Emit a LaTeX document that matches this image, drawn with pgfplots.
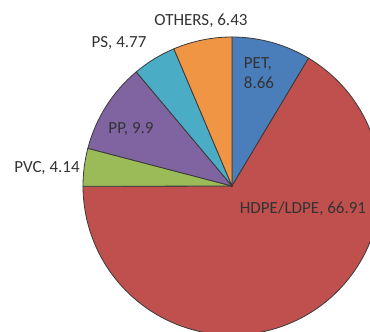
\documentclass[border=0pt]{standalone}
\usepackage{pgfplots}
\pgfplotsset{compat=1.18}
\usepackage{pgfplotstable}
\usepackage{fontspec}
\setmainfont{Carlito}

\definecolor{cPET}{HTML}{4A7EBB}
\definecolor{cHDPE}{HTML}{C0504D}
\definecolor{cPVC}{HTML}{9BBB59}
\definecolor{cPP}{HTML}{8064A2}
\definecolor{cPS}{HTML}{4BACC6}
\definecolor{cOTH}{HTML}{F09544}
\definecolor{edgegray}{HTML}{3A3A3A}
\definecolor{labelgray}{HTML}{333333}

% share of each plastic type, clockwise from 12 o'clock
\pgfplotstableread[col sep=comma]{
name,value,color
PET,8.66,cPET
HDPE/LDPE,66.91,cHDPE
PVC,4.14,cPVC
PP,9.9,cPP
PS,4.77,cPS
OTHERS,6.43,cOTH
}\piedata

\pgfplotstablegetrowsof{\piedata}
\pgfmathtruncatemacro{\lastrow}{\pgfplotsretval-1}
\def\total{0}
\pgfplotsforeachungrouped \i in {0,...,\lastrow}{%
  \pgfplotstablegetelem{\i}{value}\of\piedata
  \pgfmathsetmacro{\total}{\total+\pgfplotsretval}%
}

\def\pieradius{149}

\begin{document}
\begin{tikzpicture}
\begin{axis}[
  x=1pt, y=1pt,
  xmin=-232, xmax=138, ymin=-146, ymax=186,
  axis line style={draw=none}, ticks=none,
  clip=true,
]
\def\startang{90}
\pgfplotsforeachungrouped \i in {0,...,\lastrow}{%
  \pgfplotstablegetelem{\i}{value}\of\piedata
  \pgfmathsetmacro{\sweep}{\pgfplotsretval/\total*360}%
  \pgfmathsetmacro{\endang}{\startang-\sweep}%
  \pgfplotstablegetelem{\i}{color}\of\piedata
  \edef\slice{\noexpand\filldraw[fill=\pgfplotsretval, draw=edgegray, line width=0.8pt, line join=round]
    (axis cs:0,0) -- ++(\startang:\pieradius pt)
    arc[start angle=\startang, end angle=\endang, radius=\pieradius pt] -- cycle;}%
  \slice
  \global\let\startang\endang
}
\fill[black!80] (axis cs:0,0) circle[radius=1.2pt];

\begin{scope}[every node/.style={font=\fontsize{17}{20}\selectfont, text=labelgray, inner sep=0pt}]
\node at (axis cs:-31,165) {OTHERS, 6.43};
\node at (axis cs:-113,143) {PS, 4.77};
\node[align=left] at (axis cs:27,113) {PET,\\8.66};
\node at (axis cs:-101,57) {PP, 9.9};
\node at (axis cs:-185,18) {PVC, 4.14};
\node at (axis cs:71,-23) {HDPE/LDPE, 66.91};
\end{scope}
\end{axis}
\pgfresetboundingbox
\path[use as bounding box] (current axis.south west) rectangle (current axis.north east);
\end{tikzpicture}
\end{document}
